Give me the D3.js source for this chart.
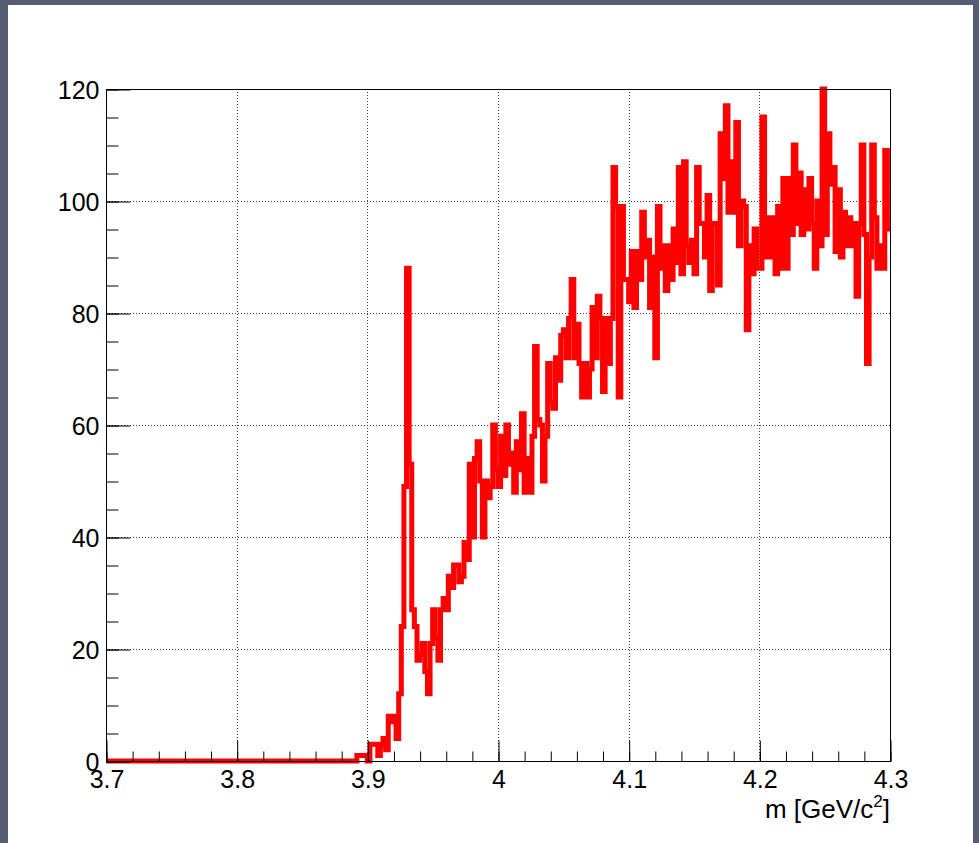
<!DOCTYPE html>
<html>
<head>
<meta charset="utf-8">
<script src="https://cdn.jsdelivr.net/npm/d3@7/dist/d3.min.js"></script>
<style>
  html, body { margin: 0; padding: 0; background: #ffffff; }
  svg { display: block; }
  text { font-family: "Liberation Sans", Arial, Helvetica, sans-serif; fill: #000; }
</style>
</head>
<body>
<script>
// Histogram: 300 bins of 2 MeV between 3.7 and 4.3 GeV/c^2
const xRange = [3.7, 4.3];
const yRange = [0, 120];
const binWidth = 0.002;
const counts = [
  0,0,0,0,0,0,0,0,0,0,     // 3.700
  0,0,0,0,0,0,0,0,0,0,
  0,0,0,0,0,0,0,0,0,0,
  0,0,0,0,0,0,0,0,0,0,
  0,0,0,0,0,0,0,0,0,0,     // 3.780
  0,0,0,0,0,0,0,0,0,0,
  0,0,0,0,0,0,0,0,0,0,
  0,0,0,0,0,0,0,0,0,0,
  0,0,0,0,0,0,0,0,0,0,     // 3.860
  0,0,0,0,0,0,1,1,1,1,
  0,3,3,3,1,3,4,2,8,7,     // 3.900
  8,4,12,24,49,88,53,27,24,18,
  19,21,16,12,21,27,22,18,27,29,
  27,33,31,35,35,32,33,39,36,53,
  40,54,57,50,40,50,47,49,60,52,
  49,58,51,60,53,55,48,57,52,62,   // 4.000
  48,54,48,58,74,61,60,50,58,71,
  64,63,72,68,76,77,72,79,86,72,
  78,71,65,71,65,70,81,72,83,79,
  66,79,71,79,106,99,65,99,86,86,
  82,91,81,91,86,98,90,93,81,90,   // 4.100
  72,99,88,92,84,92,86,95,89,106,
  87,107,92,89,93,87,106,96,96,90,
  101,84,96,96,85,112,104,117,98,107,
  98,114,92,100,99,77,92,87,95,88,
  88,115,90,97,90,97,87,99,88,104, // 4.200
  88,104,94,110,96,105,94,102,95,104,
  96,88,100,92,120,94,112,103,106,91,
  102,90,98,92,97,92,96,83,96,110,
  94,71,90,110,97,88,92,88,109,95
];
const xMajorTicks = [3.7, 3.8, 3.9, 4.0, 4.1, 4.2, 4.3];
const xTickLabels = ["3.7", "3.8", "3.9", "4", "4.1", "4.2", "4.3"];
const xMinorTicks = d3.range(0, 31).map(k => 3.7 + k * 0.02);
const yMajorTicks = [0, 20, 40, 60, 80, 100, 120];
const yMinorTicks = d3.range(0, 25).map(k => k * 5);
const xTitleMain = "m [GeV/c";
const xTitleSup = "2";
const xTitleEnd = "]";

const W = 979, H = 843;
const frame = { left: 106, right: 890, top: 89, bottom: 761 };

const svg = d3.select("body").append("svg")
  .attr("width", W).attr("height", H);

// canvas window border
svg.append("rect").attr("x", 0).attr("y", 0).attr("width", W).attr("height", H)
  .attr("fill", "#545d73");
svg.append("rect").attr("x", 8).attr("y", 5).attr("width", W - 8 - 6).attr("height", H - 5)
  .attr("fill", "#ffffff");

const x = d3.scaleLinear().domain(xRange).range([frame.left, frame.right]);
const y = d3.scaleLinear().domain(yRange).range([frame.bottom, frame.top]);

// dotted grid at the major ticks
const grid = svg.append("g").attr("stroke", "#3a3a3a").attr("stroke-width", 1)
  .attr("stroke-dasharray", "1,2");
grid.selectAll("line.gx").data(xMajorTicks.slice(1, -1)).join("line")
  .attr("class", "gx")
  .attr("x1", d => Math.round(x(d)) + 0.5).attr("x2", d => Math.round(x(d)) + 0.5)
  .attr("y1", frame.top).attr("y2", frame.bottom);
grid.selectAll("line.gy").data(yMajorTicks.slice(1, -1)).join("line")
  .attr("class", "gy")
  .attr("x1", frame.left).attr("x2", frame.right)
  .attr("y1", d => Math.round(y(d)) + 0.5).attr("y2", d => Math.round(y(d)) + 0.5);

// histogram outline drawn as steps
const steps = [];
counts.forEach((c, i) => {
  const lo = xRange[0] + i * binWidth;
  steps.push([lo, c], [lo + binWidth, c]);
});
const stepLine = d3.line().x(d => x(d[0])).y(d => y(d[1]));
svg.append("path")
  .attr("d", stepLine(steps))
  .attr("fill", "none")
  .attr("stroke", "#ff0000")
  .attr("stroke-width", 5)
  .attr("stroke-linejoin", "miter")
  .attr("stroke-linecap", "butt");

// frame
svg.append("rect")
  .attr("x", frame.left + 0.5).attr("y", frame.top + 0.5)
  .attr("width", frame.right - frame.left).attr("height", frame.bottom - frame.top)
  .attr("fill", "none").attr("stroke", "#000").attr("stroke-width", 1);

// x axis: minor and major ticks pointing inwards
const xMinor = svg.append("g").attr("transform", `translate(0.5,${frame.bottom + 0.5})`)
  .call(d3.axisBottom(x).tickValues(xMinorTicks).tickSize(-10).tickFormat(""));
const xMajor = svg.append("g").attr("transform", `translate(0.5,${frame.bottom + 0.5})`)
  .call(d3.axisBottom(x).tickValues(xMajorTicks).tickSize(-21)
    .tickFormat((d, i) => xTickLabels[i]));
[xMinor, xMajor].forEach(g => g.select(".domain").remove());
xMajor.selectAll(".tick text")
  .attr("y", 26.5).attr("dy", 0)
  .style("font-size", "25px")
  .style("font-family", "'Liberation Sans', Arial, sans-serif");

// y axis
const yMinor = svg.append("g").attr("transform", `translate(${frame.left + 0.5},0.5)`)
  .call(d3.axisLeft(y).tickValues(yMinorTicks).tickSize(-12).tickFormat(""));
const yMajor = svg.append("g").attr("transform", `translate(${frame.left + 0.5},0.5)`)
  .call(d3.axisLeft(y).tickValues(yMajorTicks).tickSize(-24).tickFormat(d3.format("d")));
[yMinor, yMajor].forEach(g => g.select(".domain").remove());
yMajor.selectAll(".tick text")
  .attr("x", -7).attr("dy", "0.36em")
  .style("font-size", "25px")
  .style("font-family", "'Liberation Sans', Arial, sans-serif");
svg.selectAll(".tick line").attr("stroke", "#000");

// x axis title
const title = svg.append("text")
  .attr("x", frame.right).attr("y", 818)
  .attr("text-anchor", "end")
  .style("font-size", "26px");
title.append("tspan").text(xTitleMain);
title.append("tspan").attr("dy", -11).style("font-size", "17px").text(xTitleSup);
title.append("tspan").attr("dy", 11).text(xTitleEnd);
</script>
</body>
</html>
